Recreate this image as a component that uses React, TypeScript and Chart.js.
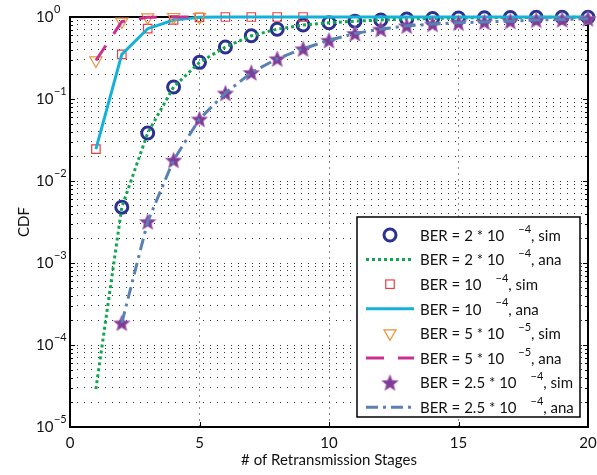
import React, { useEffect, useRef } from 'react';
import { Chart, registerables } from 'chart.js';
Chart.register(...registerables);

const FONT = 'Lato, "Liberation Sans", Arial, sans-serif';

// ---- data ----
const stages = [1, 2, 3, 4, 5, 6, 7, 8, 9, 10, 11, 12, 13, 14, 15, 16, 17, 18, 19, 20];
const simBer2e4 = [null, 0.0048, 0.0385, 0.14, 0.28, 0.43, 0.59, 0.71, 0.8, 0.85, 0.89, 0.92, 0.945, 0.96, 0.972, 0.98, 0.986, 0.99, 0.993, 0.995];
const anaBer2e4 = [2.9e-5, 0.0048, 0.0385, 0.14, 0.28, 0.43, 0.59, 0.71, 0.8, 0.85, 0.89, 0.92, 0.945, 0.96, 0.972, 0.98, 0.986, 0.99, 0.993, 0.995];
const simBer1e4 = [0.0245, 0.35, 0.72, 0.92, 0.99, 1, 1, 1, 1, null, null, null, null, null, null, null, null, null, null, null];
const anaBer1e4 = [0.0245, 0.35, 0.72, 0.92, 0.99, 1, 1, 1, 1, 1, 1, 1, 1, 1, 1, 1, 1, 1, 1, 1];
const simBer5e5 = [0.295, 0.88, 0.99, 1, 1, null, null, null, null, null, null, null, null, null, null, null, null, null, null, null];
const anaBer5e5 = [0.295, 0.88, 0.99, 1, 1, null, null, null, null, null, null, null, null, null, null, null, null, null, null, null];
const simBer25e4 = [null, 1.86e-4, 0.0032, 0.018, 0.057, 0.118, 0.21, 0.31, 0.41, 0.52, 0.63, 0.71, 0.78, 0.82, 0.85, 0.87, 0.89, 0.92, 0.93, 0.955];
const anaBer25e4 = [null, 1.86e-4, 0.0032, 0.018, 0.057, 0.118, 0.21, 0.31, 0.41, 0.52, 0.63, 0.71, 0.78, 0.82, 0.85, 0.87, 0.89, 0.92, 0.93, 0.955];

const xTickValues = [0, 5, 10, 15, 20];
const yDecades = [-5, -4, -3, -2, -1, 0];
const yMultipliers = [1, 2, 3, 4, 5, 6, 7, 8, 9];

const legendMain = ['BER = 2 * 10', 'BER = 2 * 10', 'BER = 10', 'BER = 10', 'BER = 5 * 10', 'BER = 5 * 10', 'BER = 2.5 * 10', 'BER = 2.5 * 10'];
const legendExp = ['\u22124', '\u22124', '\u22124', '\u22124', '\u22125', '\u22125', '\u22124', '\u22124'];
const legendTail = [', sim', ', ana', ', sim', ', ana', ', sim', ', ana', ', sim', ', ana'];

const xTitle = '# of Retransmission Stages';
const yTitle = 'CDF';

// ---- helpers ----
const yTickValues: number[] = [];
yDecades.forEach((p) => {
  yMultipliers.forEach((m) => {
    const v = m * Math.pow(10, p);
    if (v <= 1.0000001) yTickValues.push(v);
  });
});

function pts(arr: (number | null)[]) {
  return stages.map((x, i) => ({ x, y: arr[i] }));
}

function makeStar(outer: number, inner: number, fill: string, stroke: string) {
  const size = Math.ceil(outer * 2 + 4);
  const c = document.createElement('canvas');
  c.width = size;
  c.height = size;
  const g = c.getContext('2d')!;
  const cx = size / 2, cy = size / 2 + 0.8;
  g.beginPath();
  for (let i = 0; i < 10; i++) {
    const r = i % 2 === 0 ? outer : inner;
    const a = -Math.PI / 2 + (i * Math.PI) / 5;
    g.lineTo(cx + r * Math.cos(a), cy + r * Math.sin(a));
  }
  g.closePath();
  g.fillStyle = fill;
  g.fill();
  g.strokeStyle = stroke;
  g.lineWidth = 0.8;
  g.stroke();
  return c;
}

function drawMarker(ctx: CanvasRenderingContext2D, ds: any, x: number, y: number) {
  const style = ds.pointStyle;
  const r = ds.pointRadius;
  ctx.save();
  ctx.strokeStyle = ds.pointBorderColor || ds.borderColor;
  ctx.lineWidth = ds.pointBorderWidth;
  ctx.setLineDash([]);
  if (style === 'circle') {
    ctx.beginPath();
    ctx.arc(x, y, r, 0, Math.PI * 2);
    ctx.stroke();
  } else if (style === 'rect') {
    const s = Math.SQRT1_2 * r;
    ctx.strokeRect(x - s, y - s, 2 * s, 2 * s);
  } else if (style === 'triangle') {
    ctx.beginPath();
    for (let i = 0; i < 3; i++) {
      const a = Math.PI + (i * 2 * Math.PI) / 3;
      ctx.lineTo(x + Math.sin(a) * r, y - Math.cos(a) * r);
    }
    ctx.closePath();
    ctx.stroke();
  } else if (style && typeof style === 'object') {
    ctx.drawImage(style, x - style.width / 2, y - style.height / 2);
  }
  ctx.restore();
}

const framePlugin = {
  id: 'matlabFrame',
  beforeDatasetsDraw(chart: any) {
    const { ctx, chartArea: a, scales } = chart;
    ctx.save();
    ctx.strokeStyle = '#000';
    ctx.setLineDash([]);
    ctx.lineWidth = 1;
    const line = (x1: number, y1: number, x2: number, y2: number) => {
      ctx.beginPath();
      ctx.moveTo(x1, y1);
      ctx.lineTo(x2, y2);
      ctx.stroke();
    };
    xTickValues.forEach((v) => {
      const px = Math.round(scales.x.getPixelForValue(v)) + 0.5;
      line(px, a.bottom, px, a.bottom - 5);
      line(px, a.top, px, a.top + 5);
    });
    yTickValues.forEach((v) => {
      const py = Math.round(scales.y.getPixelForValue(v)) + 0.5;
      const major = Math.abs(Math.log10(v) - Math.round(Math.log10(v))) < 1e-6;
      const len = major ? 5 : 3;
      line(a.left, py, a.left + len, py);
      line(a.right, py, a.right - len, py);
    });
    ctx.lineWidth = 2;
    ctx.strokeRect(a.left, a.top, a.right - a.left, a.bottom - a.top);
    ctx.restore();
  },
  afterDraw(chart: any) {
    const { ctx, scales } = chart;
    ctx.save();
    // y tick labels 10^p
    ctx.fillStyle = '#111';
    ctx.textBaseline = 'middle';
    ctx.textAlign = 'left';
    yDecades.forEach((p) => {
      const py = scales.y.getPixelForValue(Math.pow(10, p));
      ctx.font = `15px ${FONT}`;
      const x0 = 36;
      ctx.fillText('10', x0, py);
      const w = ctx.measureText('10').width;
      ctx.font = `11px ${FONT}`;
      ctx.fillText(p === 0 ? '0' : '\u2212' + String(-p), x0 + w + 0.5, py - 8);
    });
    // legend
    const left = 357, top = 217, right = 580, bottom = 417;
    ctx.fillStyle = '#fff';
    ctx.fillRect(left, top, right - left, bottom - top);
    ctx.strokeStyle = '#000';
    ctx.lineWidth = 1.5;
    ctx.setLineDash([]);
    ctx.strokeRect(left, top, right - left, bottom - top);
    const datasets = chart.data.datasets;
    datasets.forEach((ds: any, i: number) => {
      const y = 235 + i * 24.6;
      if (ds.showLine === false) {
        drawMarker(ctx, ds, 390, y);
      } else {
        ctx.save();
        ctx.strokeStyle = ds.borderColor;
        ctx.lineWidth = ds.borderWidth;
        ctx.setLineDash(ds.borderDash || []);
        ctx.beginPath();
        ctx.moveTo(366, y);
        ctx.lineTo(414, y);
        ctx.stroke();
        ctx.restore();
      }
      ctx.fillStyle = '#111';
      ctx.textBaseline = 'middle';
      ctx.textAlign = 'left';
      ctx.font = `15px ${FONT}`;
      const tx = 420;
      ctx.fillText(legendMain[i], tx, y + 1);
      const w1 = ctx.measureText(legendMain[i]).width;
      const ex = tx + w1 + 14;
      ctx.font = `11px ${FONT}`;
      ctx.fillText(legendExp[i], ex, y - 6);
      const w2 = ctx.measureText(legendExp[i]).width;
      ctx.font = `15px ${FONT}`;
      ctx.fillText(legendTail[i], ex + w2, y + 1);
    });
    ctx.restore();
  },
};

export default function App() {
  const ref = useRef<HTMLCanvasElement | null>(null);
  useEffect(() => {
    document.body.style.margin = '0';
    const canvas = ref.current!;
    const star = makeStar(8.5, 3.8, '#7e3d96', '#b06ab8');
    const chart = new Chart(canvas, {
      type: 'line',
      data: {
        datasets: [
          {
            label: 'sim 2e-4', data: pts(simBer2e4), showLine: false,
            pointStyle: 'circle', pointRadius: 6, pointBorderWidth: 3,
            borderColor: '#2a3190', pointBorderColor: '#2a3190', pointBackgroundColor: 'rgba(0,0,0,0)',
            order: 0, clip: false,
          },
          {
            label: 'ana 2e-4', data: pts(anaBer2e4), borderColor: '#13a650', borderWidth: 3,
            borderDash: [3, 3], pointRadius: 0, order: -1, clip: false, borderCapStyle: 'butt',
          },
          {
            label: 'sim 1e-4', data: pts(simBer1e4), showLine: false,
            pointStyle: 'rect', pointRadius: 6, pointBorderWidth: 1.2,
            borderColor: '#ee3d42', pointBorderColor: '#ee3d42', pointBackgroundColor: 'rgba(0,0,0,0)',
            order: -2, clip: false,
          },
          {
            label: 'ana 1e-4', data: pts(anaBer1e4), borderColor: '#14b2d8', borderWidth: 3,
            pointRadius: 0, order: -3, clip: false,
          },
          {
            label: 'sim 5e-5', data: pts(simBer5e5), showLine: false,
            pointStyle: 'triangle', rotation: 180, pointRadius: 7, pointBorderWidth: 1.2,
            borderColor: '#e9913b', pointBorderColor: '#e9913b', pointBackgroundColor: 'rgba(0,0,0,0)',
            order: -4, clip: false,
          },
          {
            label: 'ana 5e-5', data: pts(anaBer5e5), borderColor: '#c9318f', borderWidth: 3,
            borderDash: [18, 14], pointRadius: 0, order: -5, clip: false,
          },
          {
            label: 'sim 2.5e-4', data: pts(simBer25e4), showLine: false,
            pointStyle: star, pointRadius: 8, pointBorderWidth: 0,
            borderColor: '#7e3d96', order: -6, clip: false,
          },
          {
            label: 'ana 2.5e-4', data: pts(anaBer25e4), borderColor: '#5a81b3', borderWidth: 3,
            borderDash: [12, 5, 3, 5], pointRadius: 0, order: -7, clip: false,
          },
        ] as any,
      },
      options: {
        animation: false,
        responsive: false,
        layout: { padding: { left: 0, top: 17, right: 8, bottom: 0 } },
        elements: { line: { tension: 0 } },
        plugins: { legend: { display: false }, tooltip: { enabled: false } },
        scales: {
          x: {
            type: 'linear', min: 0, max: 20,
            ticks: { stepSize: 5, color: '#111', font: { family: FONT, size: 15 }, padding: 7, maxRotation: 0 },
            grid: { color: '#8a8a8a', drawTicks: false, lineWidth: 1 },
            border: { display: false, dash: [2, 4] },
            title: { display: true, text: xTitle, color: '#111', font: { family: FONT, size: 15 }, padding: { top: 0, bottom: 6 } },
            afterFit: (s: any) => { s.height = 48; s.paddingLeft = 0; s.paddingRight = 0; },
          },
          y: {
            type: 'logarithmic', min: 1e-5, max: 1,
            ticks: { display: false },
            afterBuildTicks: (s: any) => { s.ticks = yTickValues.map((v) => ({ value: v })); },
            grid: { color: '#333', drawTicks: false, lineWidth: 1 },
            border: { display: false, dash: [1, 6] },
            title: { display: true, text: yTitle, color: '#111', font: { family: FONT, size: 15 }, padding: { top: 15, bottom: 0 } },
            afterFit: (s: any) => { s.width = 70; s.paddingTop = 0; s.paddingBottom = 0; },
          },
        },
      } as any,
      plugins: [framePlugin],
    });
    return () => chart.destroy();
  }, []);
  return (
    <div style={{ width: 597, height: 475 }}>
      <canvas ref={ref} width={597} height={475} style={{ display: 'block' }} />
    </div>
  );
}
